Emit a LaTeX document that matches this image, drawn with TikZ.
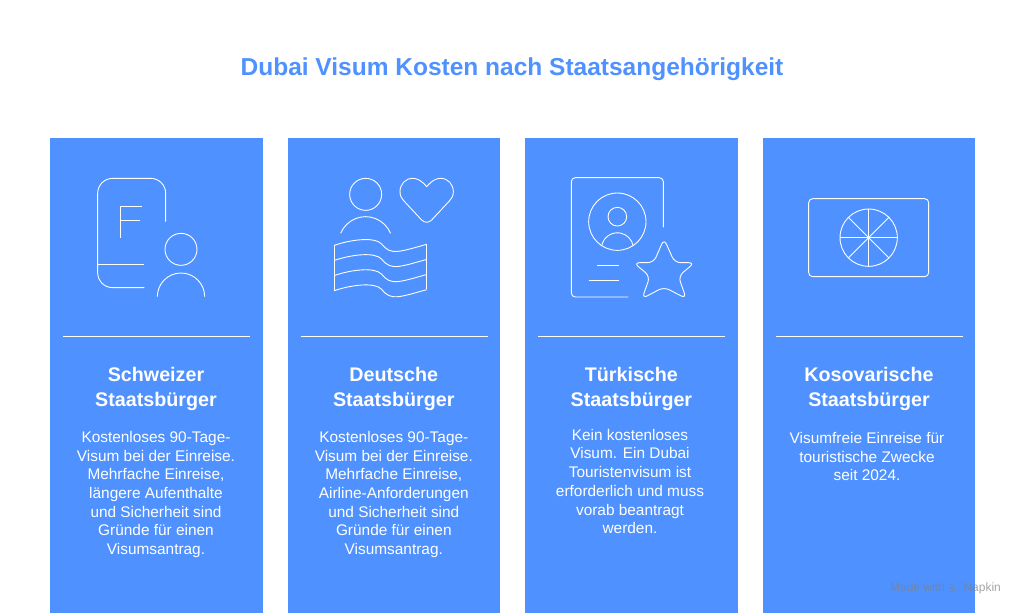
\documentclass[tikz,border=0pt]{standalone}
\usepackage{fontspec}
\setmainfont{Liberation Sans}
\definecolor{cardblue}{HTML}{4F91FF}
\tikzset{
    icon/.style={white, line width=0.9pt},
    headtext/.style={white, align=center, font=\bfseries\fontsize{19.7}{25}\selectfont},
    bodytext/.style={white, align=center, font=\fontsize{15.4}{18.7}\selectfont}
}
\begin{document}
\begin{tikzpicture}[x=1pt,y=-1pt]
    \useasboundingbox (0,0) rectangle (1024,614);
    \fill[white] (0,0) rectangle (1024,614);
    \node[cardblue, font=\bfseries\fontsize{24.5}{30}\selectfont] (title) at (512,69.5) {Dubai Visum Kosten nach Staatsangehörigkeit};
    % cards and rules
    \foreach \x in {50,287.6,525.2,762.8}{
        \fill[cardblue] (\x,138) rectangle (\x+212.6,613);
        \draw[white, line width=0.8pt] (\x+13,336.5)--(\x+200,336.5);
    }
    % first icon
    \begin{scope}[shift={(50,140)},scale=1/3,icon]
        \draw[rounded corners=15pt] (347,245)--(347,115)--(143,115)--(143,443)--(283,443);
        \draw (143,373)--(283,373);
        \draw (276,199)--(212,199)--(212,294);
        \draw (212,242)--(270,242);
        \draw (393,328) circle(48);
        \draw (322,470) arc[start angle=180,end angle=360,radius=71];
    \end{scope}
    % second icon
    \begin{scope}[shift={(50,140)},scale=1/3,icon]
        \draw (947,163) circle(48);
        \draw (872,280) arc[start angle=202.5,end angle=337.5,radius=81];
        \draw (1130,140) .. controls (1115,122) and (1102,115) .. (1088,115)
            .. controls (1066,115) and (1050,133) .. (1050,155)
            .. controls (1050,167) and (1054,174) .. (1061,182)
            -- (1115,240) .. controls (1124,249) and (1136,249) .. (1145,240)
            -- (1199,182) .. controls (1206,174) and (1210,167) .. (1210,155)
            .. controls (1210,133) and (1194,115) .. (1172,115)
            .. controls (1158,115) and (1145,122) .. (1130,140);
        \draw (853,316)--(853,452);
        \draw (1130,313)--(1130,448);
        \foreach \d in {0,45.3,90.6,136}{
            \draw[yshift=-\d pt] (853,316) .. controls (905,298) and (975,290) .. (995,312)
                .. controls (1010,330) and (1020,336) .. (1045,334)
                .. controls (1070,331) and (1100,321) .. (1130,313);
        }
    \end{scope}
    % third icon
    \begin{scope}[shift={(525,140)},scale=1/3,icon]
        \draw[rounded corners=4pt] (415,262)--(415,113)--(139,113)--(139,471)--(310,471);
        \draw (277,245) circle(86);
        \draw (277,230) circle(28);
        \draw (230,318) arc[start angle=190,end angle=350,radius=48];
        \draw (217,376)--(282,376);
        \draw (191,420)--(282,420);
        \draw[rounded corners=6pt] (417,296)--(449,368)--(509,368)--(460,409)--(484,476)
            --(417,441)--(351,476)--(375,409)--(326,368)--(386,368)--cycle;
    \end{scope}
    % fourth icon
    \begin{scope}[shift={(525,140)},scale=1/3,icon]
        \draw[rounded corners=4pt] (851,176) rectangle (1211,410);
        \draw (1031,293) circle(86);
        \foreach \a in {0,45,...,315}{
            \draw (1031,293)--++(\a:86);
        }
        \fill (1031,293) circle(4);
    \end{scope}
    % texts
    \node[headtext] (headA) at (156,389) {Schweizer\\Staatsbürger};
    \node[headtext] (headB) at (393.8,389) {Deutsche\\Staatsbürger};
    \node[headtext] (headC) at (631.4,389) {Türkische\\Staatsbürger};
    \node[headtext] (headD) at (869,389) {Kosovarische\\Staatsbürger};
    \node[bodytext] (bodyA) at (156,494.5) {Kostenloses 90-Tage-\\Visum bei der Einreise.\\Mehrfache Einreise,\\längere Aufenthalte\\und Sicherheit sind\\Gründe für einen\\Visumsantrag.};
    \node[bodytext] (bodyB) at (393.8,494.5) {Kostenloses 90-Tage-\\Visum bei der Einreise.\\Mehrfache Einreise,\\Airline-Anforderungen\\und Sicherheit sind\\Gründe für einen\\Visumsantrag.};
    \node[bodytext] (bodyC) at (630,481.5) {Kein kostenloses\\Visum. Ein Dubai\\Touristenvisum ist\\erforderlich und muss\\vorab beantragt\\werden.};
    \node[bodytext] (bodyD) at (867,456.5) {Visumfreie Einreise für\\touristische Zwecke\\seit 2024.};
    % watermark
    \node[gray, opacity=0.7, font=\fontsize{12}{13}\selectfont] (mark) at (945.5,588) {Made with \hspace{12pt} Napkin};
    \draw[gray, opacity=0.7, line width=0.8pt] (949,584.5)--(954,586) (949,588)--(955,589) (950,592)--(955,590);
\end{tikzpicture}
\end{document}
